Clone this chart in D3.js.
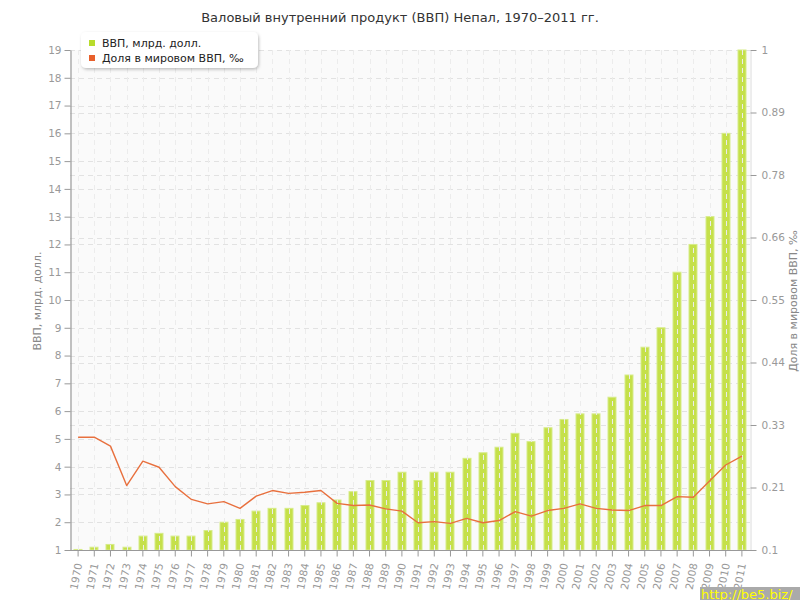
<!DOCTYPE html>
<html><head><meta charset="utf-8">
<script src="https://cdn.jsdelivr.net/npm/d3@7/dist/d3.min.js"></script>
<style>
body{margin:0;background:#fff;}
svg{display:block;font-family:"DejaVu Sans",Verdana,sans-serif;}
</style></head>
<body><svg id="c" width="800" height="600"></svg>
<script>
const years = [1970,1971,1972,1973,1974,1975,1976,1977,1978,1979,1980,1981,1982,1983,1984,1985,1986,1987,1988,1989,1990,1991,1992,1993,1994,1995,1996,1997,1998,1999,2000,2001,2002,2003,2004,2005,2006,2007,2008,2009,2010,2011];
const gdp = [1.02,1.1,1.2,1.1,1.5,1.6,1.5,1.5,1.7,2.0,2.1,2.4,2.5,2.5,2.6,2.7,2.8,3.1,3.5,3.5,3.8,3.5,3.8,3.8,4.3,4.5,4.7,5.2,4.9,5.4,5.7,5.9,5.9,6.5,7.3,8.3,9.0,11.0,12.0,13.0,16.0,19.0];
const share = [0.303,0.303,0.287,0.216,0.26,0.249,0.214,0.191,0.183,0.187,0.175,0.197,0.207,0.202,0.204,0.207,0.184,0.18,0.181,0.174,0.17,0.149,0.151,0.148,0.157,0.149,0.153,0.169,0.161,0.171,0.175,0.183,0.175,0.172,0.171,0.18,0.18,0.196,0.195,0.224,0.253,0.269];
const leftTicks = [1,2,3,4,5,6,7,8,9,10,11,12,13,14,15,16,17,18,19];
const rightTicks = [0.1,0.2125,0.325,0.4375,0.55,0.6625,0.775,0.8875,1];
const rightTickLabels = ["0.1","0.21","0.33","0.44","0.55","0.66","0.78","0.89","1"];
const title = "Валовый внутренний продукт (ВВП) Непал, 1970–2011 гг.";
const seriesNames = ["ВВП, млрд. долл.","Доля в мировом ВВП, ‰"];
const leftTitle = "ВВП, млрд. долл.";
const rightTitle = "Доля в мировом ВВП, ‰";

const svg = d3.select("#c");
const L=70, R=750, T=50, B=550;
const x = d3.scaleBand().domain(years).range([L,R]);
const yL = d3.scaleLinear().domain([1,19]).range([B,T]);
const yR = d3.scaleLinear().domain([0.1,1]).range([B,T]);
const cx = d => x(d)+x.bandwidth()/2;

const defs = svg.append("defs");
const f = defs.append("filter").attr("id","sh").attr("x","-10%").attr("y","-20%").attr("width","130%").attr("height","160%");
f.append("feDropShadow").attr("dx",1).attr("dy",1.5).attr("stdDeviation",1.5).attr("flood-color","#000").attr("flood-opacity",0.25);

// plot background
svg.append("rect").attr("x",L).attr("y",T).attr("width",R-L).attr("height",B-T).attr("fill","#fafafa");

// horizontal grid
const g = svg.append("g").attr("stroke","#e2e2e2").attr("stroke-dasharray","5,4").attr("fill","none");
g.selectAll("line.hl").data(leftTicks).join("line").attr("class","hl")
 .attr("x1",L).attr("x2",R).attr("y1",d=>Math.round(yL(d))+0.5).attr("y2",d=>Math.round(yL(d))+0.5);
g.selectAll("line.hr").data(rightTicks).join("line").attr("class","hr")
 .attr("x1",L).attr("x2",R).attr("y1",d=>Math.round(yR(d))+0.5).attr("y2",d=>Math.round(yR(d))+0.5);

// bars
svg.append("g").selectAll("rect").data(years).join("rect")
 .attr("x",(d)=>Math.round(cx(d))-4).attr("width",8)
 .attr("y",(d,i)=>yL(gdp[i])).attr("height",(d,i)=>B-yL(gdp[i]))
 .attr("fill","#c5e04a").attr("stroke","#d6eb88").attr("stroke-width",1);

// vertical grid on top
svg.append("g").attr("stroke","#ececec").attr("stroke-dasharray","5,4")
 .selectAll("line").data(years).join("line")
 .attr("x1",d=>Math.round(cx(d))+0.5).attr("x2",d=>Math.round(cx(d))+0.5).attr("y1",T).attr("y2",B);

// line
const line = d3.line().x((d,i)=>cx(years[i])).y(d=>yR(d));
svg.append("path").datum(share).attr("d",line).attr("fill","none")
 .attr("stroke","#e8703e").attr("stroke-width",1.4).attr("stroke-linejoin","round");

// axes
const axL = svg.append("g").attr("transform",`translate(${L+0.5},0)`)
 .call(d3.axisLeft(yL).tickValues(leftTicks).tickSize(6).tickSizeOuter(0).tickPadding(3).tickFormat(d3.format("d")));
axL.select(".domain").attr("stroke","#999").attr("stroke-width",1.2);
axL.selectAll(".tick line").attr("stroke","#999");
axL.selectAll("text").attr("fill","#999").attr("font-size",10.5).attr("font-family","DejaVu Sans");

const axR = svg.append("g").attr("transform",`translate(${R+0.5},0)`)
 .call(d3.axisRight(yR).tickValues(rightTicks).tickSize(6).tickSizeOuter(0).tickPadding(5).tickFormat((d,i)=>rightTickLabels[i]));
axR.select(".domain").attr("stroke","#dcdcdc");
axR.selectAll(".tick line").attr("stroke","#999");
axR.selectAll("text").attr("fill","#999").attr("font-size",10.5).attr("font-family","DejaVu Sans");

const axB = svg.append("g").attr("transform",`translate(0,${B+0.5})`)
 .call(d3.axisBottom(x).tickSize(6).tickSizeOuter(0));
axB.select(".domain").attr("stroke","#999").attr("stroke-width",1.2).attr("d",`M${L},0H${R+3}`);
axB.selectAll(".tick line").attr("stroke","#999");
axB.selectAll("text").attr("fill","#999").attr("font-size",10.5).attr("font-family","DejaVu Sans")
 .attr("transform","translate(-4.5,39) rotate(-79)").attr("text-anchor","start").attr("x",0).attr("y",0).attr("dy","0.35em");

// axis titles
svg.append("text").attr("transform","translate(41,301) rotate(-90)").attr("text-anchor","middle")
 .attr("font-size",11).attr("fill","#888").text(leftTitle);
svg.append("text").attr("transform","translate(797,301) rotate(-90)").attr("text-anchor","middle")
 .attr("font-size",11).attr("fill","#888").text(rightTitle);

// title
svg.append("text").attr("x",400).attr("y",22).attr("text-anchor","middle").attr("font-size",13).attr("fill","#333").text(title);

// legend
const lg = svg.append("g");
lg.append("rect").attr("x",81).attr("y",32).attr("width",177).attr("height",36).attr("rx",5).attr("fill","#fff").attr("filter","url(#sh)");
const colors = ["#b8dc2c","#e8602c"];
seriesNames.forEach((s,i)=>{
  lg.append("rect").attr("x",89).attr("y",40+i*15).attr("width",6).attr("height",6).attr("fill",colors[i]);
  lg.append("text").attr("x",102).attr("y",47+i*15).attr("font-size",11).attr("fill","#222").text(s);
});

// watermark
svg.append("rect").attr("x",700).attr("y",587).attr("width",100).attr("height",13).attr("fill","#aaa");
svg.append("text").attr("x",701).attr("y",598.5).attr("font-size",13).attr("fill","#ffff00").text("http://be5.biz/");
</script></body></html>
